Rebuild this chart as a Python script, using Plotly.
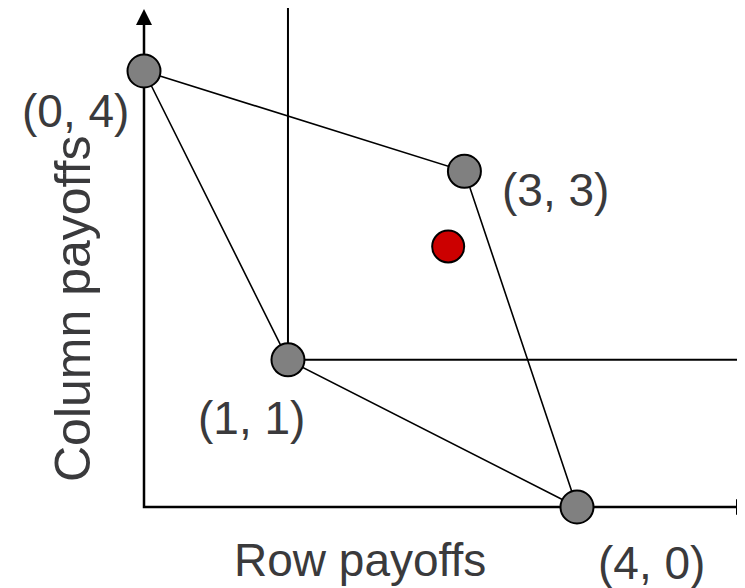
import plotly.graph_objects as go

# Payoff points (positions, in payoff units)
point_labels = ["(0, 4)", "(1, 1)", "(3, 3)", "(4, 0)"]
point_x = [0.0, 1.33, 2.96, 4.0]
point_y = [4.0, 1.35, 3.08, 0.0]

# Red point inside the region
red_x = [2.81]
red_y = [2.39]

# Axis titles
x_title = "Row payoffs"
y_title = "Column payoffs"

# page pixel <-> data mapping (page has an 8px body margin)
OX, OY = 144, 507
SX, SY = 108.25, 109
PAGE_OFF = 8


def px2x(px):
    return (px - OX) / SX


def py2y(py):
    return (OY - py) / SY


X_MIN, X_MAX = px2x(PAGE_OFF), px2x(PAGE_OFF + 745)
Y_MAX, Y_MIN = py2y(PAGE_OFF), py2y(PAGE_OFF + 588)

TEXT_COLOR = "#3a3a3c"
FONT = "Liberation Sans, Arial, sans-serif"

fig = go.Figure()

x_tip = px2x(752)
y_tip = py2y(9)

# Axes lines
fig.add_trace(go.Scatter(
    x=[0, 0, x_tip - 0.1], y=[y_tip - 0.1, 0, 0], mode="lines",
    line=dict(color="black", width=2.5), hoverinfo="skip", showlegend=False))

# Lines out of (1, 1): vertical up and horizontal right
i11 = 1
fig.add_trace(go.Scatter(
    x=[point_x[i11], point_x[i11]], y=[point_y[i11], Y_MAX + 0.2], mode="lines",
    line=dict(color="black", width=2), hoverinfo="skip", showlegend=False))
fig.add_trace(go.Scatter(
    x=[point_x[i11], px2x(737)], y=[point_y[i11], point_y[i11]], mode="lines",
    line=dict(color="black", width=2), hoverinfo="skip", showlegend=False))

# Feasible region polygon: (0,4)->(3,3)->(4,0)->(1,1)->(0,4)
order = [0, 2, 3, 1, 0]
fig.add_trace(go.Scatter(
    x=[point_x[k] for k in order], y=[point_y[k] for k in order], mode="lines",
    line=dict(color="black", width=1.6), hoverinfo="skip", showlegend=False))

# Points
fig.add_trace(go.Scatter(
    x=point_x, y=point_y, mode="markers",
    marker=dict(size=33, color="#808080", line=dict(color="black", width=2)),
    hoverinfo="skip", showlegend=False))
fig.add_trace(go.Scatter(
    x=red_x, y=red_y, mode="markers",
    marker=dict(size=32, color="#cc0000", line=dict(color="black", width=2)),
    hoverinfo="skip", showlegend=False))

annotations = []
# Arrowheads
annotations.append(dict(x=0, y=y_tip, ax=0, ay=y_tip - 0.3, xref="x", yref="y",
                        axref="x", ayref="y", text="", showarrow=True,
                        arrowhead=2, arrowsize=1.6, arrowwidth=2, arrowcolor="black"))
annotations.append(dict(x=x_tip, y=0, ax=x_tip - 0.3, ay=0, xref="x", yref="y",
                        axref="x", ayref="y", text="", showarrow=True,
                        arrowhead=2, arrowsize=1.6, arrowwidth=2, arrowcolor="black"))

label_pos = [(75, 111), (251, 418), (555, 190), (651, 563)]
for lab, (lx, ly) in zip(point_labels, label_pos):
    annotations.append(dict(x=px2x(lx), y=py2y(ly), xref="x", yref="y", text=lab,
                            showarrow=False, font=dict(size=46, color=TEXT_COLOR, family=FONT),
                            xanchor="center", yanchor="middle"))

annotations.append(dict(x=px2x(360), y=py2y(560), xref="x", yref="y", text=x_title,
                        showarrow=False, font=dict(size=46, color=TEXT_COLOR, family=FONT),
                        xanchor="center", yanchor="middle"))
annotations.append(dict(x=px2x(73), y=py2y(309), xref="x", yref="y", text=y_title,
                        showarrow=False, textangle=-90,
                        font=dict(size=50, color=TEXT_COLOR, family=FONT),
                        xanchor="center", yanchor="middle"))

fig.update_layout(
    width=745, height=588,
    margin=dict(l=0, r=0, t=0, b=0),
    paper_bgcolor="white", plot_bgcolor="white",
    xaxis=dict(range=[X_MIN, X_MAX], visible=False, fixedrange=True),
    yaxis=dict(range=[Y_MIN, Y_MAX], visible=False, fixedrange=True),
    annotations=annotations,
    showlegend=False,
)

fig.write_html("out.html")
